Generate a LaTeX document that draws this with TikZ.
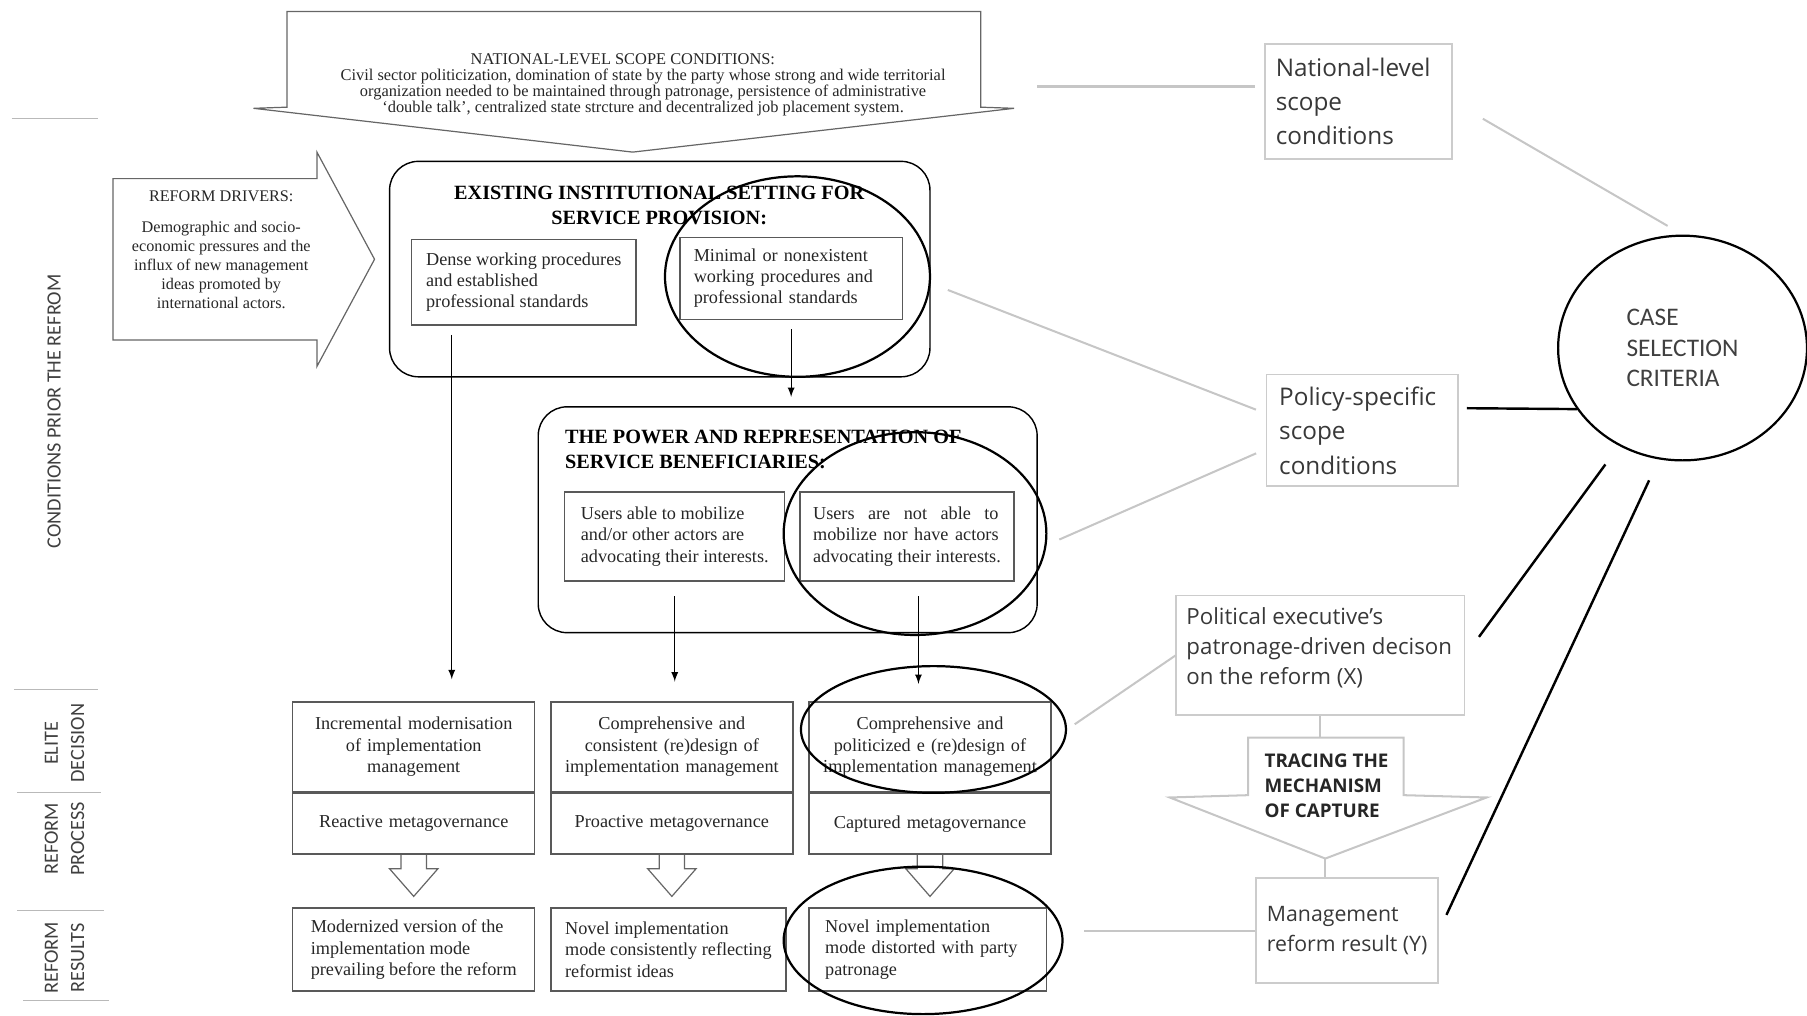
\documentclass[tikz,border=0pt]{standalone}
\usepackage{fontspec}
\setmainfont{Liberation Serif}
\newfontfamily\segoe{Open Sans}
\newfontfamily\calib{Carlito}
\usepackage{xcolor}
\usepackage{tikz}
\usetikzlibrary{shapes.geometric,arrows,positioning}

\begin{document}
\begin{tikzpicture}[x=0.02cm, y=-0.02cm,
    cell/.style={rectangle, draw=black!65, line width=0.7pt, text=black!85, font=\fontsize{9}{10.5}\selectfont, inner sep=0pt},
    lcell/.style={cell, align=left},
    ccell/.style={cell, align=center, text width=3.9cm, minimum width=4.2cm},
    setting/.style={rectangle, draw, rounded corners=0.5cm, line width=0.7pt},
    heading/.style={font=\bfseries\fontsize{10}{12.5}\selectfont, text=black},
    ring/.style={ellipse, draw, line width=1.1pt, inner sep=0pt},
    hollow/.style={draw=black!60, line width=0.6pt},
    line/.style={draw, ->, >=latex, line width=0.6pt},
    link/.style={draw=gray!45, line width=1pt},
    tie/.style={draw=black, line width=1.2pt},
    sidebox/.style={rectangle, draw=gray!40, line width=0.9pt, text=black!78, align=left},
    stage/.style={font=\calib\fontsize{10}{13}\selectfont, text=black!75, rotate=90, align=center},
    stageline/.style={draw=gray!55, line width=0.6pt}]

    \useasboundingbox (0,0) rectangle (1568,881);

    % Stages
    \node [stage] (prior) at (47,357) {CONDITIONS PRIOR THE REFROM};
    \node [stage] (elite) at (56,645) {ELITE\\DECISION};
    \node [stage] (process) at (56,728) {REFORM\\PROCESS};
    \node [stage] (results) at (56,831) {REFORM\\RESULTS};
    \draw [stageline] (10,103) -- (85,103);
    \draw [stageline] (12,598) -- (85,598);
    \draw [stageline] (15,688) -- (88,688);
    \draw [stageline] (15,790) -- (90,790);
    \draw [stageline] (20,868) -- (95,868);

    % National-level scope conditions
    \draw [hollow] (249,10) -- (851,10) -- (851,93) -- (880,94) -- (549,132) -- (220,94) -- (249,93) -- cycle;
    \node [font=\fontsize{8.1}{7.8}\selectfont, align=center, text=black!85] (natcond) at (558,73.5)
        {NATIONAL-LEVEL SCOPE CONDITIONS:\hspace*{0.7cm}\\[0.5pt]Civil sector politicization, domination of state by the party whose strong and wide territorial\\organization needed to be maintained through patronage, persistence of administrative\\`double talk', centralized state strcture and decentralized job placement system.};

    % Reform drivers
    \draw [hollow] (98,155) -- (275,155) -- (275,132) -- (325,225) -- (275,318) -- (275,295) -- (98,295) -- cycle;
    \node [font=\fontsize{8}{9.4}\selectfont, align=center, text=black!85] (drivers) at (192,217)
        {REFORM DRIVERS:\\[6pt]Demographic and socio-\\economic pressures and the\\influx of new management\\ideas promoted by\\international actors.};

    % Existing institutional setting
    \node [setting, minimum width=9.38cm, minimum height=3.74cm] (setbox) at (572.5,233.5) {};
    \node [heading, align=center] (settitle) at (572,178) {EXISTING INSTITUTIONAL SETTING FOR\\SERVICE PROVISION:};
    \node [lcell, minimum width=3.9cm, minimum height=1.48cm] (dense) at (454.5,245) {Dense working procedures\\and established\\professional standards};
    \node [lcell, text width=3.38cm, inner xsep=0.24cm, minimum height=1.42cm] (minimal) at (686.5,241.5) {Minimal or nonexistent\\working procedures and\\professional standards};

    % Power of the beneficiaries
    \node [setting, minimum width=8.66cm, minimum height=3.92cm] (powbox) at (683.5,451) {};
    \node [heading, align=left, anchor=west, inner xsep=0pt] (powtitle) at (490,390) {THE POWER AND REPRESENTATION OF\\SERVICE BENEFICIARIES:};
    \node [lcell, minimum width=3.82cm, minimum height=1.54cm] (able) at (585.5,465.5) {Users able to mobilize\\and/or other actors are\\advocating their interests.};
    \node [lcell, minimum width=3.72cm, minimum height=1.54cm] (notable) at (787,465.5)
        {\makebox[3.22cm][l]{Users\hfill are\hfill not\hfill able\hfill to}\\\makebox[3.22cm][l]{mobilize\hfill nor\hfill have\hfill actors}\\advocating their interests.};

    % Elite decision and reform process
    \node [ccell, minimum height=1.56cm] (inc) at (359,648) {Incremental modernisation\\of implementation\\management};
    \node [ccell, minimum height=1.06cm, below=0pt of inc] (react) {Reactive metagovernance};
    \node [ccell, minimum height=1.56cm] (cons) at (583,648) {Comprehensive and\\consistent (re)design of\\implementation management};
    \node [ccell, minimum height=1.06cm, below=0pt of cons] (proact) {Proactive metagovernance};
    \node [ccell, minimum height=1.56cm] (polit) at (807,648) {Comprehensive and\\politicized e (re)design of\\implementation management};
    \node [ccell, minimum height=1.06cm, below=0pt of polit] (capt) {Captured metagovernance};

    % Reform results
    \node [lcell, minimum width=4.2cm, minimum height=1.44cm] (modern) at (359,824) {Modernized version of the\\implementation mode\\prevailing before the reform};
    \node [lcell, minimum width=4.08cm, minimum height=1.44cm] (novel) at (580,824) {Novel implementation\\mode consistently reflecting\\reformist ideas};
    \node [lcell, text width=3.56cm, inner xsep=0.28cm, minimum height=1.44cm] (distort) at (805,824) {Novel implementation\\mode distorted with party\\patronage};

    \draw [hollow] (react.south) ++(-11,0) -- ++(0,12) -- ++(-10,0) -- ++(21,24) -- ++(21,-24) -- ++(-10,0) -- ++(0,-12);
    \draw [hollow] (proact.south) ++(-11,0) -- ++(0,12) -- ++(-10,0) -- ++(21,24) -- ++(21,-24) -- ++(-10,0) -- ++(0,-12);
    \draw [hollow] (capt.south) ++(-11,0) -- ++(0,12) -- ++(-10,0) -- ++(21,24) -- ++(21,-24) -- ++(-10,0) -- ++(0,-12);

    % Flows
    \coordinate (fromdense) at ([xshift=-1.25cm]dense.south);
    \coordinate (fromnot) at ([xshift=0.2cm]notable.south);
    \draw [line, shorten <=0.16cm, shorten >=0.38cm] (fromdense) -- (fromdense |- inc.north);
    \draw [line, shorten <=0.16cm, shorten >=0.16cm] (minimal.south) -- (minimal.south |- powbox.north);
    \draw [line, shorten <=0.26cm, shorten >=0.34cm] (able.south) -- (able.south |- cons.north);
    \draw [line, shorten <=0.26cm, shorten >=0.3cm] (fromnot) -- (fromnot |- polit.north);

    % Circled cases
    \node [ring, minimum width=4.6cm, minimum height=3.48cm] (ringA) at (692,240) {};
    \node [ring, minimum width=4.56cm, minimum height=3.52cm] (ringB) at (794,463) {};
    \node [ring, minimum width=4.6cm, minimum height=2.2cm] (ringC) at (810,633) {};
    \node [ring, minimum width=4.84cm, minimum height=2.56cm] (ringD) at (801,816) {};

    % Case selection side
    \node [sidebox, font=\segoe\fontsize{12}{17}\selectfont, text width=2.88cm, inner xsep=0.18cm, minimum height=2cm] (nat) at (1179,88) {National-level\\scope\\conditions};
    \node [sidebox, font=\segoe\fontsize{12}{17}\selectfont, text width=2.88cm, inner xsep=0.22cm, minimum height=1.94cm] (pol) at (1182,373.5) {Policy-specific\\scope\\conditions};
    \node [sidebox, font=\segoe\fontsize{11}{15}\selectfont, inner xsep=0.175cm, inner ysep=0.2cm, anchor=north west] (pex) at (1020,516)
        {\parbox[c][1.68cm][t]{4.65cm}{\raggedright Political executive’s\\patronage-driven decison\\on the reform (X)}};
    \node [sidebox, font=\segoe\fontsize{10.5}{15}\selectfont, minimum width=3.16cm, minimum height=1.82cm] (mgmt) at (1169,807.5) {Management\\reform result (Y)};
    \node [ring, minimum width=4.32cm, minimum height=3.9cm, font=\calib\fontsize{12.5}{15}\selectfont, text=black!75, align=left] (case) at (1460,302) {CASE\\SELECTION\\CRITERIA};

    % Tracing the mechanism
    \draw [link] (1083,640) -- (1218,640) -- (1218,690) -- (1290,692) -- (1150,745) -- (1015,692) -- (1083,690) -- cycle;
    \coordinate (trtop) at (1150,640);
    \coordinate (trtip) at (1150,745);
    \node [font=\segoe\bfseries\fontsize{9.3}{12.5}\selectfont, text=black!85, align=left, anchor=west, inner xsep=0pt] (trace) at (1097,682) {TRACING THE\\MECHANISM\\OF CAPTURE};

    % Links
    \coordinate (nattip) at (900,75);
    \draw [link, line width=1.6pt, shorten >=0.16cm] (nattip) -- (nattip -| nat.west);
    \draw [link, shorten <=0.6cm, shorten >=0.3cm] (nat.east) -- (case.north);
    \draw [link, shorten <=0.32cm, shorten >=0.18cm] (setbox.-3) -- (pol.170);
    \draw [link, shorten <=0.24cm, shorten >=0.18cm] (ringB.-5) -- (pol.191);
    \draw [link, shorten >=0.16cm] (pex.west) -- (ringC.east);
    \draw [link] (pex.south) -- (pex.south |- trtop);
    \draw [link] (trtip) -- (trtip |- mgmt.north);
    \draw [link, shorten >=0.36cm] (mgmt.west) -- (mgmt.west -| ringD.east);
    \draw [tie, shorten <=0.14cm] (pol.13) -- (case.210);
    \draw [tie, shorten <=0.4cm, shorten >=0.4cm] (pex.east) -- (case.237);
    \draw [tie, shorten <=0.3cm, shorten >=0.4cm] (mgmt.east) -- (case.258);

\end{tikzpicture}
\end{document}
